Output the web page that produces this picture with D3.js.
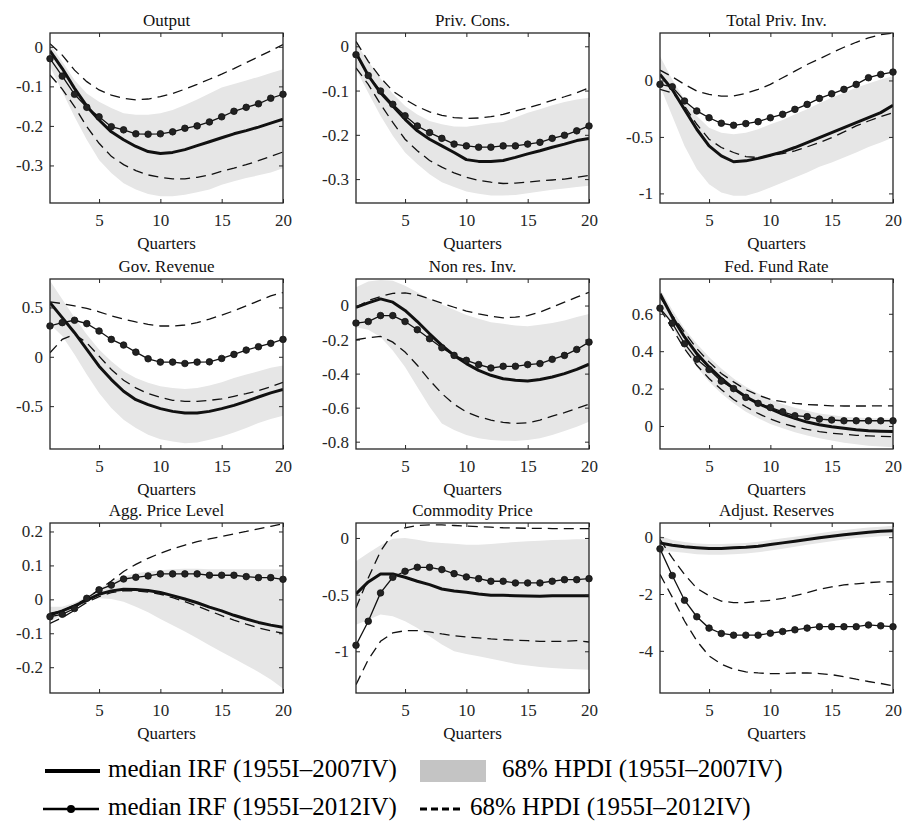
<!DOCTYPE html>
<html>
<head>
<meta charset="utf-8">
<script src="https://cdn.jsdelivr.net/npm/d3@7"></script>
<style>
  body { margin: 0; background: #fff; }
</style>
</head>
<body>
<svg id="chart" width="907" height="826"></svg>
<script>
// --- data ---
const quarters = [1,2,3,4,5,6,7,8,9,10,11,12,13,14,15,16,17,18,19,20];
const titles = ["Output","Priv. Cons.","Total Priv. Inv.","Gov. Revenue","Non res. Inv.","Fed. Fund Rate","Agg. Price Level","Commodity Price","Adjust. Reserves"];
const yTickValues = [
  [-0.3,-0.2,-0.1,0], [-0.3,-0.2,-0.1,0], [-1,-0.5,0],
  [-0.5,0,0.5], [-0.8,-0.6,-0.4,-0.2,0], [0,0.2,0.4,0.6],
  [-0.2,-0.1,0,0.1,0.2], [-1,-0.5,0], [-4,-2,0]
];
const yDomains = [
  [-0.395,0.035], [-0.354,0.030], [-1.085,0.420],
  [-0.934,0.788], [-0.843,0.156], [-0.123,0.786],
  [-0.276,0.225], [-1.368,0.132], [-5.485,0.500]
];

// Output
const outMed07  = [-0.010,-0.055,-0.105,-0.150,-0.185,-0.215,-0.235,-0.252,-0.265,-0.270,-0.267,-0.260,-0.250,-0.240,-0.230,-0.220,-0.212,-0.203,-0.193,-0.183];
const outMed12  = [-0.030,-0.074,-0.120,-0.153,-0.177,-0.202,-0.210,-0.220,-0.221,-0.220,-0.215,-0.206,-0.200,-0.190,-0.177,-0.163,-0.153,-0.144,-0.130,-0.120];
const outBandLo = [-0.050,-0.113,-0.177,-0.235,-0.286,-0.319,-0.345,-0.361,-0.372,-0.378,-0.378,-0.374,-0.368,-0.361,-0.349,-0.340,-0.332,-0.325,-0.318,-0.307];
const outBandHi = [0.008,-0.038,-0.084,-0.118,-0.139,-0.155,-0.168,-0.172,-0.172,-0.168,-0.160,-0.147,-0.133,-0.118,-0.103,-0.094,-0.085,-0.076,-0.066,-0.057];
const outDashLo = [-0.071,-0.107,-0.151,-0.202,-0.244,-0.277,-0.298,-0.313,-0.324,-0.330,-0.334,-0.334,-0.330,-0.324,-0.315,-0.307,-0.298,-0.288,-0.277,-0.266];
const outDashHi = [0.008,-0.021,-0.059,-0.088,-0.109,-0.122,-0.130,-0.134,-0.132,-0.126,-0.118,-0.107,-0.095,-0.082,-0.069,-0.055,-0.040,-0.025,-0.010,0.006];

// Priv. Cons.
const consMed07  = [-0.015,-0.066,-0.105,-0.135,-0.165,-0.191,-0.210,-0.225,-0.240,-0.256,-0.260,-0.260,-0.258,-0.251,-0.243,-0.236,-0.228,-0.221,-0.213,-0.208];
const consMed12  = [-0.019,-0.066,-0.101,-0.131,-0.157,-0.180,-0.195,-0.208,-0.221,-0.225,-0.228,-0.228,-0.225,-0.225,-0.221,-0.217,-0.208,-0.201,-0.191,-0.180];
const consBandLo = [-0.052,-0.105,-0.157,-0.202,-0.240,-0.266,-0.289,-0.307,-0.318,-0.328,-0.333,-0.337,-0.337,-0.336,-0.332,-0.328,-0.324,-0.321,-0.318,-0.315];
const consBandHi = [0.007,-0.034,-0.073,-0.107,-0.135,-0.154,-0.169,-0.176,-0.181,-0.182,-0.178,-0.174,-0.171,-0.161,-0.150,-0.142,-0.133,-0.126,-0.120,-0.116];
const consDashLo = [-0.049,-0.086,-0.131,-0.172,-0.210,-0.236,-0.258,-0.273,-0.286,-0.296,-0.303,-0.307,-0.310,-0.309,-0.307,-0.304,-0.302,-0.300,-0.296,-0.292];
const consDashHi = [0.011,-0.034,-0.071,-0.101,-0.120,-0.136,-0.148,-0.156,-0.161,-0.163,-0.162,-0.159,-0.154,-0.146,-0.139,-0.131,-0.122,-0.114,-0.105,-0.094];

// Total Priv. Inv.
const invMed07  = [0.053,-0.080,-0.256,-0.432,-0.580,-0.668,-0.720,-0.712,-0.690,-0.662,-0.632,-0.594,-0.550,-0.506,-0.462,-0.418,-0.374,-0.330,-0.285,-0.220];
const invMed12  = [-0.035,-0.056,-0.182,-0.270,-0.330,-0.379,-0.397,-0.382,-0.365,-0.330,-0.300,-0.256,-0.212,-0.159,-0.118,-0.079,-0.035,0.024,0.053,0.074];
const invBandLo = [-0.050,-0.315,-0.580,-0.785,-0.918,-0.991,-1.020,-1.020,-0.990,-0.947,-0.903,-0.859,-0.815,-0.765,-0.726,-0.682,-0.638,-0.590,-0.550,-0.506];
const invBandHi = [0.215,0.009,-0.168,-0.315,-0.418,-0.462,-0.476,-0.462,-0.432,-0.388,-0.350,-0.300,-0.256,-0.203,-0.153,-0.109,-0.065,-0.026,0.009,0.038];
const invDashLo = [-0.079,-0.109,-0.226,-0.388,-0.520,-0.594,-0.638,-0.674,-0.682,-0.668,-0.647,-0.624,-0.588,-0.550,-0.506,-0.456,-0.403,-0.359,-0.321,-0.285];
const invDashHi = [0.091,0.032,-0.035,-0.094,-0.124,-0.138,-0.138,-0.115,-0.079,-0.035,0.024,0.082,0.141,0.191,0.244,0.294,0.338,0.376,0.405,0.420];

// Gov. Revenue
const revMed07  = [0.549,0.397,0.244,0.075,-0.095,-0.231,-0.349,-0.434,-0.485,-0.525,-0.553,-0.569,-0.569,-0.553,-0.525,-0.492,-0.451,-0.407,-0.366,-0.332];
const revMed12  = [0.312,0.346,0.370,0.336,0.261,0.176,0.119,0.047,-0.020,-0.054,-0.054,-0.068,-0.054,-0.051,-0.017,0.024,0.068,0.102,0.136,0.176];
const revBandLo = [0.329,0.210,0.024,-0.180,-0.366,-0.519,-0.637,-0.722,-0.790,-0.834,-0.858,-0.875,-0.868,-0.841,-0.807,-0.766,-0.722,-0.671,-0.630,-0.597];
const revBandHi = [0.771,0.583,0.397,0.227,0.075,-0.044,-0.146,-0.214,-0.264,-0.298,-0.315,-0.325,-0.315,-0.292,-0.258,-0.214,-0.180,-0.146,-0.112,-0.088];
const revDashLo = [0.041,0.176,0.227,0.142,0.007,-0.129,-0.237,-0.315,-0.373,-0.410,-0.441,-0.451,-0.451,-0.441,-0.427,-0.400,-0.373,-0.342,-0.305,-0.258];
const revDashHi = [0.556,0.539,0.515,0.490,0.456,0.415,0.381,0.353,0.329,0.312,0.312,0.322,0.346,0.381,0.422,0.466,0.515,0.566,0.617,0.651];

// Non res. Inv.
const nriMed07  = [-0.010,0.016,0.039,0.020,-0.029,-0.094,-0.166,-0.234,-0.293,-0.341,-0.381,-0.410,-0.430,-0.439,-0.443,-0.435,-0.420,-0.400,-0.375,-0.345];
const nriMed12  = [-0.103,-0.094,-0.059,-0.059,-0.094,-0.142,-0.195,-0.248,-0.293,-0.322,-0.347,-0.367,-0.357,-0.357,-0.347,-0.341,-0.316,-0.293,-0.258,-0.215];
const nriBandLo = [-0.127,-0.142,-0.185,-0.264,-0.361,-0.478,-0.595,-0.693,-0.732,-0.761,-0.780,-0.790,-0.794,-0.796,-0.790,-0.780,-0.761,-0.737,-0.712,-0.683];
const nriBandHi = [0.107,0.142,0.150,0.146,0.117,0.078,0.039,0.006,-0.025,-0.055,-0.078,-0.098,-0.107,-0.117,-0.121,-0.113,-0.102,-0.088,-0.068,-0.049];
const nriDashLo = [-0.201,-0.189,-0.181,-0.215,-0.273,-0.351,-0.439,-0.517,-0.580,-0.625,-0.654,-0.673,-0.687,-0.693,-0.689,-0.673,-0.650,-0.629,-0.605,-0.580];
const nriDashHi = [-0.010,0.029,0.053,0.072,0.074,0.062,0.039,0.014,-0.010,-0.033,-0.049,-0.062,-0.072,-0.068,-0.059,-0.039,-0.010,0.020,0.049,0.078];

// Fed. Fund Rate
const ffrMed07  = [0.707,0.582,0.476,0.387,0.316,0.254,0.200,0.156,0.121,0.091,0.064,0.041,0.021,0.007,-0.004,-0.012,-0.020,-0.025,-0.028,-0.030];
const ffrMed12  = [0.630,0.550,0.440,0.357,0.302,0.240,0.200,0.153,0.121,0.099,0.076,0.055,0.050,0.037,0.032,0.028,0.028,0.028,0.028,0.028];
const ffrBandLo = [0.653,0.529,0.413,0.316,0.236,0.174,0.121,0.076,0.041,0.011,-0.012,-0.034,-0.051,-0.066,-0.078,-0.089,-0.098,-0.105,-0.110,-0.114];
const ffrBandHi = [0.733,0.621,0.520,0.440,0.369,0.307,0.254,0.210,0.174,0.142,0.117,0.098,0.082,0.067,0.059,0.050,0.046,0.043,0.041,0.039];
const ffrDashLo = [0.627,0.520,0.413,0.325,0.254,0.195,0.142,0.103,0.067,0.037,0.014,-0.004,-0.018,-0.030,-0.039,-0.044,-0.050,-0.053,-0.055,-0.057];
const ffrDashHi = [0.689,0.591,0.502,0.414,0.343,0.281,0.236,0.195,0.165,0.142,0.130,0.121,0.115,0.112,0.108,0.107,0.107,0.107,0.108,0.108];

// Agg. Price Level
const aplMed07  = [-0.046,-0.034,-0.019,-0.002,0.015,0.025,0.030,0.029,0.026,0.020,0.011,0.001,-0.010,-0.023,-0.034,-0.047,-0.058,-0.068,-0.076,-0.082];
const aplMed12  = [-0.051,-0.044,-0.027,0.003,0.028,0.042,0.060,0.065,0.069,0.075,0.075,0.075,0.075,0.071,0.071,0.071,0.067,0.064,0.064,0.059];
const aplBandLo = [-0.066,-0.046,-0.025,-0.007,0.003,0.001,-0.007,-0.022,-0.038,-0.058,-0.076,-0.095,-0.115,-0.135,-0.155,-0.174,-0.194,-0.214,-0.236,-0.263];
const aplBandHi = [-0.022,-0.022,-0.010,0.008,0.031,0.052,0.067,0.077,0.082,0.086,0.089,0.090,0.090,0.089,0.089,0.089,0.089,0.089,0.089,0.089];
const aplDashLo = [-0.071,-0.054,-0.032,-0.009,0.008,0.020,0.025,0.025,0.021,0.015,0.005,-0.007,-0.020,-0.034,-0.048,-0.061,-0.073,-0.084,-0.093,-0.100];
const aplDashHi = [-0.041,-0.034,-0.017,0.003,0.028,0.054,0.082,0.103,0.121,0.136,0.149,0.160,0.170,0.178,0.185,0.193,0.200,0.208,0.215,0.223];

// Commodity Price
const comMed07  = [-0.494,-0.388,-0.318,-0.318,-0.347,-0.382,-0.412,-0.450,-0.468,-0.479,-0.494,-0.506,-0.506,-0.509,-0.512,-0.515,-0.509,-0.509,-0.509,-0.509];
const comMed12  = [-0.947,-0.735,-0.485,-0.347,-0.294,-0.259,-0.259,-0.279,-0.315,-0.344,-0.359,-0.382,-0.382,-0.397,-0.397,-0.397,-0.382,-0.368,-0.368,-0.359];
const comBandLo = [-0.765,-0.721,-0.676,-0.691,-0.735,-0.794,-0.868,-0.941,-1.000,-1.024,-1.044,-1.065,-1.088,-1.112,-1.126,-1.138,-1.147,-1.153,-1.159,-1.162];
const comBandHi = [-0.206,-0.132,-0.065,-0.006,0.000,-0.015,-0.035,-0.044,-0.050,-0.059,-0.059,-0.053,-0.044,-0.035,-0.029,-0.024,-0.018,-0.015,-0.012,-0.012];
const comDashLo = [-1.294,-1.074,-0.912,-0.838,-0.818,-0.818,-0.829,-0.847,-0.862,-0.874,-0.882,-0.891,-0.897,-0.903,-0.906,-0.912,-0.912,-0.912,-0.906,-0.918];
const comDashHi = [-0.618,-0.353,-0.118,0.040,0.090,0.110,0.115,0.115,0.110,0.105,0.100,0.095,0.090,0.088,0.085,0.085,0.083,0.082,0.082,0.082];

// Adjust. Reserves
const resMed07  = [-0.20,-0.28,-0.34,-0.37,-0.40,-0.40,-0.37,-0.35,-0.32,-0.26,-0.20,-0.14,-0.08,-0.02,0.035,0.09,0.13,0.175,0.21,0.23];
const resMed12  = [-0.41,-1.35,-2.22,-2.80,-3.20,-3.39,-3.45,-3.45,-3.45,-3.38,-3.32,-3.26,-3.20,-3.15,-3.15,-3.15,-3.15,-3.09,-3.12,-3.15];
const resBandLo = [-0.50,-0.50,-0.55,-0.60,-0.62,-0.62,-0.60,-0.57,-0.53,-0.47,-0.41,-0.34,-0.27,-0.20,-0.14,-0.08,-0.03,0.00,0.03,0.05];
const resBandHi = [0.05,-0.10,-0.17,-0.22,-0.24,-0.24,-0.22,-0.20,-0.16,-0.10,-0.04,0.02,0.08,0.14,0.20,0.25,0.30,0.34,0.37,0.40];
const resDashLo = [-1.31,-2.11,-2.95,-3.65,-4.18,-4.47,-4.65,-4.74,-4.78,-4.80,-4.80,-4.78,-4.78,-4.80,-4.84,-4.91,-5.00,-5.08,-5.15,-5.23];
const resDashHi = [-0.08,-0.73,-1.31,-1.80,-2.06,-2.25,-2.30,-2.30,-2.26,-2.22,-2.15,-2.06,-1.95,-1.83,-1.75,-1.68,-1.64,-1.60,-1.57,-1.57];

const legendLabels = ["median IRF (1955I\u20132007IV)", "68% HPDI (1955I\u20132007IV)",
                      "median IRF (1955I\u20132012IV)", "68% HPDI (1955I\u20132012IV)"];

// --- panel table built from the arrays above ---
const series = [
  [outMed07, outMed12, outBandLo, outBandHi, outDashLo, outDashHi],
  [consMed07, consMed12, consBandLo, consBandHi, consDashLo, consDashHi],
  [invMed07, invMed12, invBandLo, invBandHi, invDashLo, invDashHi],
  [revMed07, revMed12, revBandLo, revBandHi, revDashLo, revDashHi],
  [nriMed07, nriMed12, nriBandLo, nriBandHi, nriDashLo, nriDashHi],
  [ffrMed07, ffrMed12, ffrBandLo, ffrBandHi, ffrDashLo, ffrDashHi],
  [aplMed07, aplMed12, aplBandLo, aplBandHi, aplDashLo, aplDashHi],
  [comMed07, comMed12, comBandLo, comBandHi, comDashLo, comDashHi],
  [resMed07, resMed12, resBandLo, resBandHi, resDashLo, resDashHi]
];

// --- layout ---
const colLeft = [50, 356, 660];
const rowTop = [33, 279, 523];
const panelW = 233;
const panelH = 170;
const ink = "#111";
const frameInk = "#262626";
const bandFill = "#e6e6e6";
const serif = "Liberation Serif";

const svg = d3.select("#chart");
const defs = svg.append("defs");
const fmt = v => (v === 0 ? "0" : String(v));

function styleAxis(a) {
  a.attr("font-family", serif).attr("font-size", 17);
  a.select(".domain").remove();
  a.selectAll("line").attr("stroke", frameInk);
  a.selectAll("text").attr("fill", frameInk);
}

titles.forEach((title, i) => {
  const [med07, med12, bandLo, bandHi, dashLo, dashHi] = series[i];
  const left = colLeft[i % 3];
  const top = rowTop[Math.floor(i / 3)];

  const x = d3.scaleLinear().domain([1, 20]).range([0, panelW]);
  const y = d3.scaleLinear().domain(yDomains[i]).range([panelH, 0]);

  const g = svg.append("g").attr("transform", `translate(${left},${top})`);

  defs.append("clipPath").attr("id", "clip" + i)
    .append("rect").attr("width", panelW).attr("height", panelH);

  const plot = g.append("g").attr("clip-path", `url(#clip${i})`);

  const rows = quarters.map((q, k) => ({ q, med07: med07[k], med12: med12[k],
    lo: bandLo[k], hi: bandHi[k], dlo: dashLo[k], dhi: dashHi[k] }));

  // shaded HPDI band (2007)
  plot.append("path").datum(rows)
    .attr("fill", bandFill)
    .attr("d", d3.area().x(d => x(d.q)).y0(d => y(d.lo)).y1(d => y(d.hi)));

  // dashed HPDI (2012)
  ["dlo", "dhi"].forEach(key => {
    plot.append("path").datum(rows)
      .attr("fill", "none").attr("stroke", ink)
      .attr("stroke-width", 1.3).attr("stroke-dasharray", "10,6")
      .attr("d", d3.line().x(d => x(d.q)).y(d => y(d[key])));
  });

  // thick median (2007)
  plot.append("path").datum(rows)
    .attr("fill", "none").attr("stroke", ink)
    .attr("stroke-width", 3).attr("stroke-linejoin", "round")
    .attr("d", d3.line().x(d => x(d.q)).y(d => y(d.med07)));

  // median with markers (2012)
  plot.append("path").datum(rows)
    .attr("fill", "none").attr("stroke", ink)
    .attr("stroke-width", 1.3)
    .attr("d", d3.line().x(d => x(d.q)).y(d => y(d.med12)));

  g.append("g").selectAll("circle").data(rows).join("circle")
    .attr("cx", d => x(d.q)).attr("cy", d => y(d.med12))
    .attr("r", 3.3).attr("fill", "#222").attr("stroke", ink).attr("stroke-width", 0.8);

  // axes: ticks inward on all four sides
  const xt = [5, 10, 15, 20];
  g.append("g").attr("transform", `translate(0,${panelH})`)
    .call(d3.axisBottom(x).tickValues(xt).tickSizeInner(-4).tickSizeOuter(0).tickPadding(11))
    .call(styleAxis);
  g.append("g")
    .call(d3.axisTop(x).tickValues(xt).tickSizeInner(-4).tickSizeOuter(0).tickFormat(""))
    .call(styleAxis);
  g.append("g")
    .call(d3.axisLeft(y).tickValues(yTickValues[i]).tickSizeInner(-4).tickSizeOuter(0).tickPadding(7).tickFormat(fmt))
    .call(styleAxis);
  g.append("g").attr("transform", `translate(${panelW},0)`)
    .call(d3.axisRight(y).tickValues(yTickValues[i]).tickSizeInner(-4).tickSizeOuter(0).tickFormat(""))
    .call(styleAxis);

  g.append("rect").attr("width", panelW).attr("height", panelH)
    .attr("fill", "none").attr("stroke", frameInk).attr("stroke-width", 1.3);

  g.append("text").attr("x", panelW / 2).attr("y", -7)
    .attr("text-anchor", "middle").attr("fill", ink)
    .attr("font-family", serif).attr("font-size", 17)
    .text(title);

  g.append("text").attr("x", panelW / 2).attr("y", panelH + 46)
    .attr("text-anchor", "middle").attr("fill", ink)
    .attr("font-family", serif).attr("font-size", 17)
    .text("Quarters");
});

// --- legend ---
const lg = svg.append("g")
  .attr("font-family", serif).attr("font-size", 25).attr("fill", "#000");

const row1 = 771, row2 = 809;
lg.append("line").attr("x1", 45).attr("x2", 100).attr("y1", row1).attr("y2", row1)
  .attr("stroke", "#000").attr("stroke-width", 4);
lg.append("text").attr("x", 108).attr("y", row1 + 6).text(legendLabels[0]);

lg.append("rect").attr("x", 420).attr("y", row1 - 11).attr("width", 66).attr("height", 22)
  .attr("fill", "#c4c4c4");
lg.append("text").attr("x", 502).attr("y", row1 + 6).text(legendLabels[1]);

lg.append("line").attr("x1", 43).attr("x2", 99).attr("y1", row2).attr("y2", row2)
  .attr("stroke", "#000").attr("stroke-width", 2.5);
lg.append("circle").attr("cx", 71).attr("cy", row2).attr("r", 4).attr("fill", "#000");
lg.append("text").attr("x", 108).attr("y", row2 + 6).text(legendLabels[2]);

lg.append("line").attr("x1", 420).attr("x2", 462).attr("y1", row2).attr("y2", row2)
  .attr("stroke", "#000").attr("stroke-width", 3).attr("stroke-dasharray", "7,4");
lg.append("text").attr("x", 470).attr("y", row2 + 6).text(legendLabels[3]);
</script>
</body>
</html>
